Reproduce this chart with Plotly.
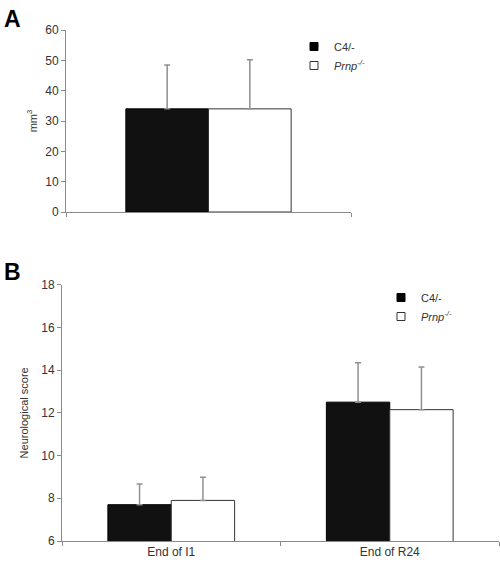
import plotly.graph_objects as go

# Panel A data
a_categories = [""]
a_c4_values = [34.0]
a_c4_err = [14.5]
a_prnp_values = [34.0]
a_prnp_err = [16.2]
a_yticks = [0, 10, 20, 30, 40, 50, 60]

# Panel B data
b_categories = ["End of I1", "End of R24"]
b_c4_values = [7.7, 12.5]
b_c4_err = [0.97, 1.85]
b_prnp_values = [7.9, 12.15]
b_prnp_err = [1.08, 2.0]
b_yticks = [6, 8, 10, 12, 14, 16, 18]

series_names = ["C4/-", "<i>Prnp<sup>-/-</sup></i>"]

W, H = 500, 564
FONT = "Liberation Sans, Arial, sans-serif"
AXC = "#8a8a8a"
TXT = "#333333"

def px_x(p):
    return p / W

def px_y(p):
    return 1 - p / H

fig = go.Figure()

err_style = dict(type="data", symmetric=False, color="#909090", thickness=1.5, width=3)

# Panel A bars
fig.add_trace(go.Bar(x=a_categories, y=a_c4_values, name=series_names[0],
                     marker=dict(color="#111111", line=dict(color="#000000", width=1)),
                     error_y=dict(array=a_c4_err, arrayminus=[0] * len(a_c4_err), **err_style),
                     xaxis="x", yaxis="y", showlegend=False))
fig.add_trace(go.Bar(x=a_categories, y=a_prnp_values, name=series_names[1],
                     marker=dict(color="#ffffff", line=dict(color="#333333", width=1)),
                     error_y=dict(array=a_prnp_err, arrayminus=[0] * len(a_prnp_err), **err_style),
                     xaxis="x", yaxis="y", showlegend=False))

# Panel B bars
fig.add_trace(go.Bar(x=b_categories, y=b_c4_values, name=series_names[0],
                     marker=dict(color="#111111", line=dict(color="#000000", width=1)),
                     error_y=dict(array=b_c4_err, arrayminus=[0] * len(b_c4_err), **err_style),
                     xaxis="x2", yaxis="y2", showlegend=False))
fig.add_trace(go.Bar(x=b_categories, y=b_prnp_values, name=series_names[1],
                     marker=dict(color="#ffffff", line=dict(color="#333333", width=1)),
                     error_y=dict(array=b_prnp_err, arrayminus=[0] * len(b_prnp_err), **err_style),
                     xaxis="x2", yaxis="y2", showlegend=False))

# Legend entries (legend-only markers)
for lg, xa, ya in [("legend", "x", "y"), ("legend2", "x2", "y2")]:
    fig.add_trace(go.Scatter(x=[None], y=[None], mode="markers", name=series_names[0],
                             marker=dict(symbol="square", size=8, color="#000000",
                                         line=dict(color="#000000", width=1)),
                             xaxis=xa, yaxis=ya, legend=lg))
    fig.add_trace(go.Scatter(x=[None], y=[None], mode="markers", name=series_names[1],
                             marker=dict(symbol="square", size=8, color="#ffffff",
                                         line=dict(color="#333333", width=1)),
                             xaxis=xa, yaxis=ya, legend=lg))

axis_common = dict(showline=True, linecolor=AXC, linewidth=1, ticks="outside",
                   tickcolor=AXC, ticklen=4, tickwidth=1, showgrid=False, zeroline=False,
                   automargin=False,
                   tickfont=dict(family=FONT, size=12, color=TXT))

legend_common = dict(font=dict(family=FONT, size=11, color=TXT), bgcolor="rgba(0,0,0,0)",
                     borderwidth=0, xanchor="left", yanchor="top", tracegroupgap=0,
                     itemwidth=30)

fig.update_layout(
    width=W, height=H,
    margin=dict(l=0, r=0, t=0, b=0, autoexpand=False),
    paper_bgcolor="white", plot_bgcolor="white",
    barmode="group", bargap=0.42, bargroupgap=0,
    font=dict(family=FONT, size=11, color=TXT),
    xaxis=dict(domain=[px_x(66), px_x(351)], anchor="y", type="category",
               showticklabels=False, tickson="boundaries", **axis_common),
    yaxis=dict(domain=[px_y(212), px_y(30)], anchor="x", range=[0, 60],
               tickvals=a_yticks,
               title=dict(text="mm<sup>3</sup>", font=dict(family=FONT, size=11, color=TXT), standoff=5),
               **axis_common),
    xaxis2=dict(domain=[px_x(62), px_x(499)], anchor="y2", type="category",
                tickson="boundaries", **axis_common),
    yaxis2=dict(domain=[px_y(541), px_y(284.7)], anchor="x2", range=[6, 18],
                tickvals=b_yticks,
                title=dict(text="Neurological score", font=dict(family=FONT, size=11, color=TXT), standoff=10),
                **axis_common),
    legend=dict(x=px_x(294), y=px_y(32), **legend_common),
    legend2=dict(x=px_x(381), y=px_y(283), **legend_common),
    annotations=[
        dict(text="<b>A</b>", x=px_x(2), y=px_y(4), xref="paper", yref="paper",
             xanchor="left", yanchor="top", showarrow=False,
             font=dict(family=FONT, size=23, color="#000000")),
        dict(text="<b>B</b>", x=px_x(2), y=px_y(257), xref="paper", yref="paper",
             xanchor="left", yanchor="top", showarrow=False,
             font=dict(family=FONT, size=23, color="#000000")),
    ],
)

fig.write_html("out.html",
               config={"displayModeBar": False},
               post_script="document.body.style.margin='0';document.body.style.overflow='hidden';")
